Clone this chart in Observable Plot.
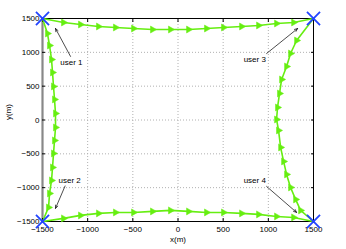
<!DOCTYPE html>
<html>
<head>
<meta charset="utf-8">
<script src="https://cdn.jsdelivr.net/npm/d3@7"></script>
<script src="https://cdn.jsdelivr.net/npm/@observablehq/plot@0.6"></script>
<style>
  html, body { margin: 0; padding: 0; background: #fff; }
  #chart { width: 346px; height: 249px; }
</style>
</head>
<body>
<div id="chart"></div>
<script>
const ticks = [-1500, -1000, -500, 0, 500, 1000, 1500];
const gridTicks = [-1000, -500, 0, 500, 1000];

const topX = [-1500, -1267, -1079, -880, -692, -492, -282, -83, 117, 316, 504, 704, 892, 1091, 1280, 1500];
const topY = [1500, 1441, 1411, 1382, 1367, 1352, 1337, 1337, 1337, 1352, 1367, 1382, 1397, 1426, 1441, 1500];
const bottomX = [-1500, -1267, -1079, -880, -692, -492, -282, -83, 117, 316, 504, 704, 892, 1091, 1280, 1500];
const bottomY = [-1500, -1454, -1410, -1380, -1366, -1366, -1351, -1336, -1351, -1366, -1366, -1380, -1395, -1425, -1440, -1500];
const leftX = [-1500, -1445, -1422, -1400, -1389, -1378, -1367, -1356, -1356, -1367, -1378, -1389, -1400, -1422, -1433, -1500];
const leftY = [1500, 1278, 1101, 894, 702, 496, 304, 97, -110, -302, -494, -701, -893, -1085, -1292, -1500];
const rightX = [1500, 1313, 1246, 1202, 1147, 1124, 1102, 1091, 1113, 1136, 1169, 1202, 1246, 1302, 1357, 1500];
const rightY = [1500, 1175, 983, 791, 599, 392, 185, 8, -154, -405, -612, -804, -996, -1174, -1336, -1500];

const userNames = ["user 1", "user 2", "user 3", "user 4"];
const userX = [-1500, -1500, 1500, 1500];
const userY = [1500, -1500, 1500, -1500];
const labelX = [-1180, -1200, 850, 850];
const labelY = [850, -893, 894, -893];
const arrowFromX = [-1190, -1250, 981, 981];
const arrowFromY = [940, -975, 983, -982];
const arrowToX = [-1356, -1356, 1324, 1313];
const arrowToY = [1352, -1306, 1352, -1366];

const toPts = (xs, ys) => xs.map((x, i) => ({x, y: ys[i]}));
const paths = [toPts(topX, topY), toPts(bottomX, bottomY), toPts(leftX, leftY), toPts(rightX, rightY)];
const users = userNames.map((n, i) => ({
  name: n, x: userX[i], y: userY[i], lx: labelX[i], ly: labelY[i],
  x1: arrowFromX[i], y1: arrowFromY[i], x2: arrowToX[i], y2: arrowToY[i]
}));

const fmt = d => String(d).replace("-", "\u2212");
const green = "#66ee11";
const marks = [
  Plot.gridX(gridTicks, {stroke: "#b0b0b0", strokeOpacity: 1, strokeDasharray: "1,2"}),
  Plot.gridY(gridTicks, {stroke: "#b0b0b0", strokeOpacity: 1, strokeDasharray: "1,2"}),
  Plot.frame({stroke: "#000", strokeWidth: 1}),
  Plot.ruleX([-1500], {stroke: "#888", strokeWidth: 2.2}),
  Plot.axisX(ticks, {anchor: "bottom", tickSize: -3, tickPadding: 8, fontSize: 8, tickFormat: fmt, label: null}),
  Plot.axisX(ticks, {anchor: "top", tickSize: -3, tickFormat: () => "", label: null}),
  Plot.axisY(ticks, {anchor: "left", tickSize: -3, tickPadding: 6, fontSize: 8, tickFormat: fmt, label: null}),
  Plot.axisY(ticks, {anchor: "right", tickSize: -3, tickFormat: () => "", label: null}),
];
for (const p of paths) {
  marks.push(Plot.line(p, {x: "x", y: "y", stroke: green, strokeWidth: 1.6}));
  marks.push(Plot.dot(p.slice(1, -1), {x: "x", y: "y", symbol: "triangle", rotate: 90, r: 2.6, fill: green, stroke: green, strokeWidth: 0.5}));
}
marks.push(
  Plot.arrow(users, {x1: "x1", y1: "y1", x2: "x2", y2: "y2", stroke: "#000", strokeWidth: 0.7, headLength: 7, headAngle: 45}),
  Plot.text(users, {x: "lx", y: "ly", text: "name", fontSize: 8, fill: "#000"}),
  Plot.dot(users, {x: "x", y: "y", symbol: "times", r: 6, stroke: "#2244ff", strokeWidth: 1.8}),
  Plot.text(["x(m)"], {frameAnchor: "bottom", dy: 20, text: d => d, fontSize: 8, fill: "#000"}),
  Plot.text(["y(m)"], {frameAnchor: "left", dx: -34, rotate: -90, text: d => d, fontSize: 8, fill: "#000"})
);

const chart = Plot.plot({
  width: 346,
  height: 249,
  marginLeft: 42,
  marginRight: 33,
  marginTop: 18,
  marginBottom: 28,
  style: {fontFamily: "'Liberation Sans', Arial, sans-serif", fontSize: "8px", color: "#000", background: "#fff"},
  x: {domain: [-1500, 1500], axis: null},
  y: {domain: [-1500, 1500], axis: null},
  marks
});
document.getElementById("chart").appendChild(chart);
</script>
</body>
</html>
